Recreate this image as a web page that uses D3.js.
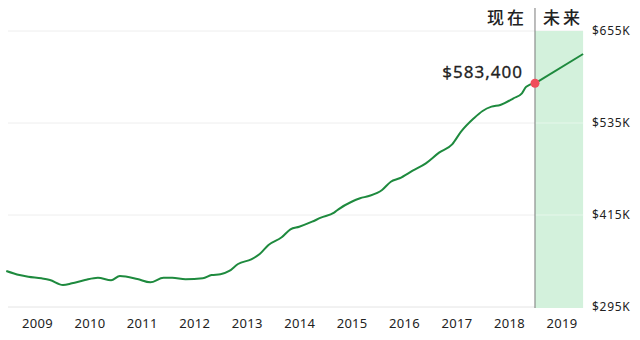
<!DOCTYPE html>
<html>
<head>
<meta charset="utf-8">
<script src="https://cdn.jsdelivr.net/npm/d3@7"></script>
<style>
  html, body { margin: 0; padding: 0; background: #fff; }
  svg { display: block; }
</style>
</head>
<body>
<svg id="chart" width="640" height="340"></svg>
<script>
// ---- data ----
const historyDates = ["2008-06","2008-09","2008-11","2009-02","2009-04","2009-07","2009-09","2009-12",
  "2010-03","2010-06","2010-08","2010-12","2011-03","2011-06","2011-08","2011-11",
  "2012-03","2012-05","2012-07","2012-09","2012-11","2013-02","2013-04","2013-06","2013-09","2013-11",
  "2014-01","2014-04","2014-06","2014-09","2014-10","2015-01","2015-03","2015-05","2015-08","2015-10","2015-12",
  "2016-03","2016-06","2016-09","2016-12","2017-02","2017-05","2017-07","2017-09","2017-11",
  "2018-02","2018-04","2018-05","2018-07"];
const historyValues = [342000,336700,334500,332400,330200,323700,325900,330200,
  333200,329800,335400,331500,327200,333200,333200,331100,
  332400,336700,337700,342000,351100,357200,364100,375900,385900,396300,
  399700,406300,411500,418000,422400,432300,436800,439800,447600,458400,462900,
  472800,482400,496300,507200,523700,541100,550700,556300,558500,
  567200,573700,582300,586800];
const forecastDates = ["2018-07","2019-06"];
const forecastValues = [586800,625000];
const nowDate = "2018-07";
const nowLabel = "$583,400";
const leftLabel = "现在";
const rightLabel = "未来";
const yearTicks = [2009,2010,2011,2012,2013,2014,2015,2016,2017,2018,2019];
const yTickValues = [295000,415000,535000,655000];
const yTickLabels = ["$295K","$415K","$535K","$655K"];

// ---- setup ----
const parse = d3.timeParse("%Y-%m");
const svg = d3.select("#chart");
const font = "'Noto Sans', 'Noto Sans CJK SC', sans-serif";

const x = d3.scaleTime()
  .domain([new Date(2009,0,1), new Date(2018,0,1)])
  .range([37, 509]);
const y = d3.scaleLinear().domain([295000, 655000]).range([307, 31]);

const plotLeft = 8, plotRight = 583;
const nowX = x(parse(nowDate));
const endX = x(parse(forecastDates[forecastDates.length-1]));

// gridlines
svg.append("g").selectAll("line").data(yTickValues).join("line")
  .attr("x1", plotLeft).attr("x2", plotRight)
  .attr("y1", d => y(d)).attr("y2", d => y(d))
  .attr("stroke", d => d === yTickValues[0] ? "#e4e4e4" : "#eeeeee")
  .attr("stroke-width", 1);

// forecast band
svg.append("rect")
  .attr("x", nowX).attr("y", y(yTickValues[yTickValues.length-1]))
  .attr("width", endX - nowX)
  .attr("height", y(yTickValues[0]) - y(yTickValues[yTickValues.length-1]) + 1)
  .attr("fill", "#d3f1dc");

// light gridlines through band
svg.append("g").selectAll("line").data(yTickValues.slice(1, -1)).join("line")
  .attr("x1", nowX).attr("x2", endX)
  .attr("y1", d => y(d)).attr("y2", d => y(d))
  .attr("stroke", "#e6f7eb").attr("stroke-width", 1);

// now divider
svg.append("line")
  .attr("x1", nowX).attr("x2", nowX)
  .attr("y1", 8).attr("y2", y(yTickValues[0]) + 1)
  .attr("stroke", "#7a7a7a").attr("stroke-width", 1);

// y labels
svg.append("g").selectAll("text").data(yTickValues).join("text")
  .attr("x", 592).attr("y", d => y(d))
  .attr("dy", "0.35em")
  .attr("font-family", font).attr("font-size", 12)
  .attr("letter-spacing", "0.7px")
  .attr("fill", "#222")
  .text((d, i) => yTickLabels[i]);

// x axis labels
const xAxis = d3.axisBottom(x)
  .tickValues(yearTicks.map(yr => new Date(yr,0,1)))
  .tickFormat(d3.timeFormat("%Y"))
  .tickSize(0).tickPadding(0);
const gx = svg.append("g").attr("transform", "translate(0,319)").call(xAxis);
gx.select(".domain").remove();
gx.selectAll("text").attr("font-family", font).attr("font-size", 13)
  .attr("letter-spacing", "0.3px").attr("fill", "#222");

// line
const hist = historyDates.map((d, i) => ({date: parse(d), value: historyValues[i]}));
const fc = forecastDates.map((d, i) => ({date: parse(d), value: forecastValues[i]}));

svg.append("path").datum(hist)
  .attr("d", d3.line().x(d => x(d.date)).y(d => y(d.value)).curve(d3.curveMonotoneX))
  .attr("fill", "none")
  .attr("stroke", "#1e8a3e").attr("stroke-width", 2)
  .attr("stroke-linejoin", "round");
svg.append("path").datum(fc)
  .attr("d", d3.line().x(d => x(d.date)).y(d => y(d.value)))
  .attr("fill", "none")
  .attr("stroke", "#1e8a3e").attr("stroke-width", 2)
  .attr("stroke-linejoin", "round");

// now dot
const nowVal = historyValues[historyValues.length-1];
svg.append("circle")
  .attr("cx", nowX).attr("cy", y(nowVal)).attr("r", 4.5)
  .attr("fill", "#f04e5b");

// value label
svg.append("text")
  .attr("x", nowX - 12).attr("y", y(nowVal) - 5)
  .attr("text-anchor", "end")
  .attr("font-family", font).attr("font-size", 17).attr("font-weight", 400)
  .attr("letter-spacing", "1px")
  .attr("stroke", "#222").attr("stroke-width", 0.3)
  .attr("fill", "#222")
  .text(nowLabel);

// now / future labels
svg.append("text")
  .attr("x", nowX - 8).attr("y", 24)
  .attr("text-anchor", "end")
  .attr("font-family", "'Noto Sans CJK SC', sans-serif").attr("font-size", 17)
  .attr("font-weight", 500)
  .attr("letter-spacing", "3px")
  .attr("fill", "#222")
  .text(leftLabel);
svg.append("text")
  .attr("x", nowX + 8).attr("y", 24)
  .attr("text-anchor", "start")
  .attr("font-family", "'Noto Sans CJK SC', sans-serif").attr("font-size", 17)
  .attr("font-weight", 500)
  .attr("letter-spacing", "3px")
  .attr("fill", "#222")
  .text(rightLabel);
</script>
</body>
</html>
